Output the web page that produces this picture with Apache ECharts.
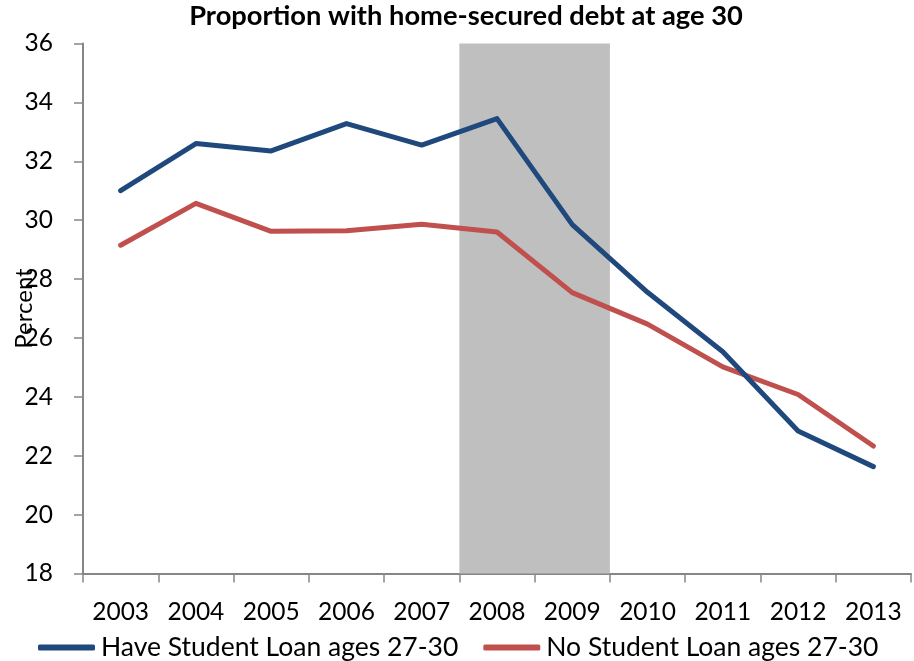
<!DOCTYPE html>
<html>
<head>
<meta charset="utf-8">
<script src="https://cdn.jsdelivr.net/npm/echarts@6/dist/echarts.min.js"></script>
<style>html,body{margin:0;padding:0;background:#fff}#c{width:914px;height:661px}</style>
</head>
<body>
<div id="c"></div>
<script>
var years = ['2003','2004','2005','2006','2007','2008','2009','2010','2011','2012','2013'];
var haveLoan = [31.0, 32.6, 32.35, 33.28, 32.55, 33.45, 29.85, 27.55, 25.53, 22.84, 21.63];
var noLoan = [29.15, 30.57, 29.62, 29.64, 29.86, 29.6, 27.54, 26.47, 25.02, 24.08, 22.33];
var recessionYears = ['2008', '2009'];
var yTicks = {min: 18, max: 36, step: 2};

var recStart = years.indexOf(recessionYears[0]);
var recEnd = years.indexOf(recessionYears[recessionYears.length - 1]) + 1;

var font = 'Lato';
var chart = echarts.init(document.getElementById('c'));
chart.setOption({
  animation: false,
  title: {
    text: 'Proportion with home-secured debt at age 30',
    left: 466, top: 3, padding: 0, textAlign: 'center',
    textStyle: {fontFamily: font, fontWeight: 'bold', fontSize: 27.3, color: '#000'}
  },
  grid: {left: 83, right: 3, top: 43.5, bottom: 87.5, containLabel: false, outerBoundsMode: 'none'},
  legend: {
    data: ['Have Student Loan ages 27-30', 'No Student Loan ages 27-30'],
    left: 38, top: 634, padding: 0, itemWidth: 57, itemHeight: 6, itemGap: 25, icon: 'roundRect',
    textStyle: {fontFamily: font, fontSize: 26.5, color: '#000', padding: [0, 0, 0, 1]}
  },
  xAxis: [{
    type: 'category', data: years, boundaryGap: true,
    axisLine: {lineStyle: {color: '#868686', width: 2}},
    axisTick: {show: true, interval: 0, length: 9, lineStyle: {color: '#868686', width: 1.5}},
    axisLabel: {fontFamily: font, fontSize: 24.5, color: '#000', margin: 26, interval: 0}
  }, {
    type: 'value', min: 0, max: years.length, show: false
  }],
  yAxis: {
    type: 'value', min: yTicks.min, max: yTicks.max, interval: yTicks.step,
    name: 'Percent', nameLocation: 'middle', nameRotate: 90, nameGap: 47, nameMoveOverlap: false,
    nameTextStyle: {fontFamily: font, fontSize: 24, color: '#000'},
    axisLine: {show: true, lineStyle: {color: '#868686', width: 2}},
    axisTick: {show: true, length: 9, lineStyle: {color: '#868686', width: 1.5}},
    splitLine: {show: false},
    axisLabel: {fontFamily: font, fontSize: 24.5, color: '#000', margin: 30}
  },
  series: [
    {
      name: 'Recession', type: 'line', xAxisIndex: 1, data: [], silent: true, z: 1,
      markArea: {
        silent: true,
        itemStyle: {color: '#BFBFBF', opacity: 1},
        data: [[{xAxis: recStart}, {xAxis: recEnd}]]
      }
    },
    {
      name: 'Have Student Loan ages 27-30', type: 'line', data: haveLoan, symbol: 'none',
      lineStyle: {color: '#1F497D', width: 5, cap: 'round', join: 'round'},
      itemStyle: {color: '#1F497D'}, z: 3
    },
    {
      name: 'No Student Loan ages 27-30', type: 'line', data: noLoan, symbol: 'none',
      lineStyle: {color: '#C0504D', width: 5, cap: 'round', join: 'round'},
      itemStyle: {color: '#C0504D'}, z: 2
    }
  ]
});
</script>
</body>
</html>
